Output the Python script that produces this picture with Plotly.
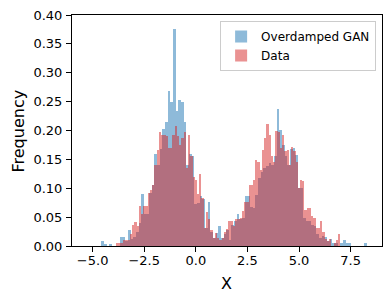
import plotly.graph_objects as go

# ---- data (densities) ----
gan_bin_start = -4.58
gan_bin_width = 0.1287
gan_density = [
    0.008, 0.004, 0.0, 0.004, 0.0, 0.0, 0.0, 0.016, 0.016, 0.008,
    0.028, 0.012, 0.016, 0.024, 0.040, 0.090, 0.056, 0.056, 0.092, 0.106,
    0.160, 0.140, 0.168, 0.203, 0.215, 0.269, 0.250, 0.375, 0.234, 0.253,
    0.250, 0.215, 0.140, 0.160, 0.155, 0.072, 0.075, 0.086, 0.082, 0.031,
    0.077, 0.025, 0.014, 0.022, 0.035, 0.014, 0.020, 0.028, 0.010, 0.037,
    0.043, 0.055, 0.046, 0.048, 0.087, 0.087, 0.067, 0.066, 0.088, 0.118,
    0.129, 0.135, 0.138, 0.144, 0.141, 0.155, 0.237, 0.201, 0.175, 0.155,
    0.141, 0.168, 0.170, 0.158, 0.101, 0.101, 0.048, 0.043, 0.043, 0.037,
    0.035, 0.020, 0.014, 0.018, 0.015, 0.008, 0.012, 0.005, 0.005, 0.0,
    0.005, 0.010, 0.005, 0.005, 0.0, 0.0, 0.0, 0.0, 0.0, 0.005,
]

data_bin_start = -3.85
data_bin_width = 0.1085
data_density = [
    0.005, 0.005, 0.005, 0.011, 0.011, 0.011, 0.020, 0.037, 0.041, 0.034,
    0.070, 0.056, 0.070, 0.070, 0.092, 0.097, 0.106, 0.141, 0.167, 0.197,
    0.193, 0.193, 0.190, 0.170, 0.170, 0.193, 0.207, 0.190, 0.175, 0.187,
    0.198, 0.135, 0.193, 0.155, 0.120, 0.115, 0.090, 0.125, 0.083, 0.031,
    0.059, 0.046, 0.028, 0.014, 0.022, 0.014, 0.011, 0.014, 0.025, 0.030,
    0.043, 0.043, 0.034, 0.046, 0.046, 0.048, 0.060, 0.077, 0.077, 0.106,
    0.106, 0.115, 0.149, 0.146, 0.131, 0.167, 0.187, 0.211, 0.193, 0.155,
    0.146, 0.200, 0.197, 0.170, 0.193, 0.164, 0.167, 0.141, 0.171, 0.164,
    0.146, 0.100, 0.115, 0.113, 0.063, 0.066, 0.066, 0.052, 0.048, 0.031,
    0.031, 0.043, 0.024, 0.012, 0.008, 0.012, 0.0, 0.005, 0.011, 0.020,
]

x_tick_vals = [-5.0, -2.5, 0.0, 2.5, 5.0, 7.5]
x_tick_text = ["\u22125.0", "\u22122.5", "0.0", "2.5", "5.0", "7.5"]
y_tick_vals = [0.0, 0.05, 0.10, 0.15, 0.20, 0.25, 0.30, 0.35, 0.40]

series_names = ["Overdamped GAN", "Data"]
x_title = "X"
y_title = "Frequency"


def centers(start, width, n):
    return [start + (i + 0.5) * width for i in range(n)]


FONT = "DejaVu Sans"
# The page body has an 8px default margin, so the figure starts at (8, 8).
W, H = 375, 284
ML, MR, MT, MB = 64, 1, 7, 46

fig = go.Figure()
fig.add_trace(go.Bar(
    x=centers(gan_bin_start, gan_bin_width, len(gan_density)),
    y=gan_density,
    width=gan_bin_width,
    name=series_names[0],
    marker=dict(color="#1f77b4", line=dict(width=0)),
    opacity=0.5,
))
fig.add_trace(go.Bar(
    x=centers(data_bin_start, data_bin_width, len(data_density)),
    y=data_density,
    width=data_bin_width,
    name=series_names[1],
    marker=dict(color="#d62728", line=dict(width=0)),
    opacity=0.5,
))

axis_common = dict(
    showgrid=False, zeroline=False, automargin=False,
    showline=True, mirror=True, linecolor="black", linewidth=1,
    ticks="outside", ticklen=5, tickwidth=1, tickcolor="black",
    tickfont=dict(family=FONT, size=13, color="black"),
    ticklabeloverflow="allow",
)

plot_w = W - ML - MR
plot_h = H - MT - MB

fig.update_layout(
    width=W, height=H,
    margin=dict(l=ML, r=MR, t=MT, b=MB, autoexpand=False),
    paper_bgcolor="white", plot_bgcolor="white",
    barmode="overlay", bargap=0,
    font=dict(family=FONT, color="black"),
    showlegend=True,
    legend=dict(
        x=0.981, y=0.974, xanchor="right", yanchor="top",
        bgcolor="rgba(255,255,255,0.8)", bordercolor="#cccccc", borderwidth=1,
        font=dict(family=FONT, size=12, color="black"),
        tracegroupgap=2,
    ),
    xaxis=dict(
        range=[-6.0, 9.02],
        tickvals=x_tick_vals, ticktext=x_tick_text,
        ticklabelstandoff=-3,
        **axis_common,
    ),
    yaxis=dict(
        range=[0, 0.40],
        tickvals=y_tick_vals, tickformat=".2f",
        ticklabelstandoff=1,
        **axis_common,
    ),
    annotations=[
        dict(text=x_title, xref="paper", yref="paper",
             x=(218.5 - ML) / plot_w, y=-(275 - (H - MB)) / plot_h,
             xanchor="center", yanchor="middle", showarrow=False,
             font=dict(family=FONT, size=16, color="black")),
        dict(text=y_title, xref="paper", yref="paper",
             x=-(ML - 9.5) / plot_w, y=((H - MB) - 123) / plot_h,
             xanchor="center", yanchor="middle", showarrow=False, textangle=-90,
             font=dict(family=FONT, size=16, color="black")),
    ],
)

fig.write_html("out.html")
